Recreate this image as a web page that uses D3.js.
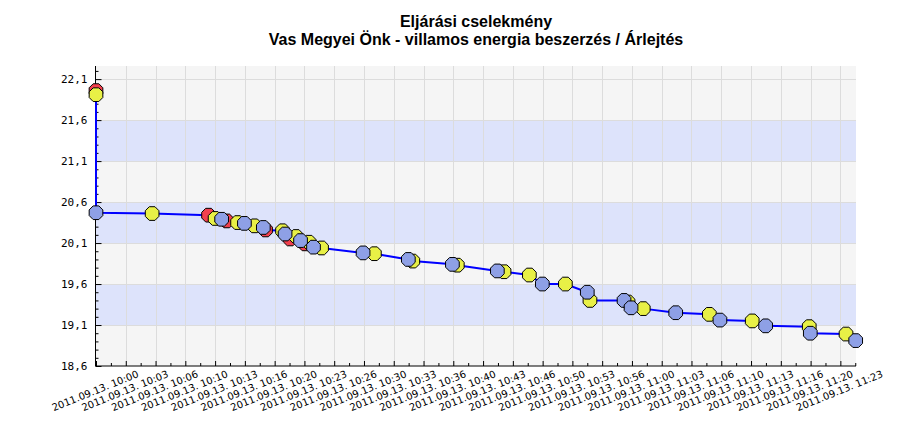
<!DOCTYPE html>
<html><head><meta charset="utf-8">
<script src="https://cdn.jsdelivr.net/npm/d3@7"></script>
<style>body{margin:0;background:#fff}svg{display:block}</style>
</head><body>
<svg id="chart" width="914" height="422"></svg>
<script>
// ---- data ----
const titleLines = ["Eljárási cselekmény", "Vas Megyei Önk - villamos energia beszerzés / Árlejtés"];
const bidTimes = ["10:00:00","10:00:00","10:00:00","10:06:17","10:12:36","10:13:20","10:14:04","10:14:38",
  "10:15:51","10:16:37","10:17:45","10:18:44","10:18:59","10:20:53","10:21:10","10:21:44","10:22:24",
  "10:22:54","10:23:24","10:23:51","10:24:21","10:25:15","10:29:54","10:31:10","10:34:58","10:35:28",
  "10:39:54","10:40:27","10:44:56","10:45:41","10:48:31","10:49:58","10:52:33","10:55:00","10:55:18",
  "10:59:07","10:59:34","10:59:54","11:01:16","11:04:54","11:08:40","11:09:51","11:13:28","11:14:58",
  "11:19:51","11:19:58","11:23:58","11:25:03"];
const bidPrices = [21.96,21.91,20.47,20.46,20.44,20.40,20.39,20.37,
  20.35,20.34,20.31,20.29,20.26,20.25,20.21,20.15,20.18,
  20.13,20.09,20.11,20.05,20.04,19.98,19.97,19.90,19.88,
  19.84,19.83,19.76,19.75,19.71,19.60,19.60,19.50,19.40,
  19.40,19.38,19.31,19.30,19.25,19.23,19.16,19.15,19.09,
  19.08,19.00,18.99,18.91];
// 0 = red bidder, 1 = yellow bidder, 2 = blue bidder
const bidders = [0,1,2,1,0,1,2,0,
  1,2,1,2,0,1,2,0,1,
  2,0,1,2,1,2,1,2,1,
  2,1,2,1,1,2,1,2,1,
  2,1,2,1,2,1,2,1,2,
  1,2,1,2];
const bidderColors = ["#f2404e", "#e8f046", "#8ea0e6"];
const yMajorTicks = [18.6,19.1,19.6,20.1,20.6,21.1,21.6,22.1];
const yTickLabels = ["18,6","19,1","19,6","20,1","20,6","21,1","21,6","22,1"];
const yMinorTicks = [18.7,18.8,18.9,19.0,19.2,19.3,19.4,19.5,19.7,19.8,19.9,20.0,20.2,20.3,20.4,20.5,
  20.7,20.8,20.9,21.0,21.2,21.3,21.4,21.5,21.7,21.8,21.9,22.0,22.2];
const xTickTimes = ["10:00:00","10:03:20","10:06:40","10:10:00","10:13:20","10:16:40","10:20:00","10:23:20",
  "10:26:40","10:30:00","10:33:20","10:36:40","10:40:00","10:43:20","10:46:40","10:50:00","10:53:20",
  "10:56:40","11:00:00","11:03:20","11:06:40","11:10:00","11:13:20","11:16:40","11:20:00","11:23:20"];
const xTickLabels = ["2011.09.13. 10:00","2011.09.13. 10:03","2011.09.13. 10:06","2011.09.13. 10:10",
  "2011.09.13. 10:13","2011.09.13. 10:16","2011.09.13. 10:20","2011.09.13. 10:23","2011.09.13. 10:26",
  "2011.09.13. 10:30","2011.09.13. 10:33","2011.09.13. 10:36","2011.09.13. 10:40","2011.09.13. 10:43",
  "2011.09.13. 10:46","2011.09.13. 10:50","2011.09.13. 10:53","2011.09.13. 10:56","2011.09.13. 11:00",
  "2011.09.13. 11:03","2011.09.13. 11:06","2011.09.13. 11:10","2011.09.13. 11:13","2011.09.13. 11:16",
  "2011.09.13. 11:20","2011.09.13. 11:23"];
const xMinorTimes = ["10:01:40","10:05:00","10:08:20","10:11:40","10:15:00","10:18:20","10:21:40","10:25:00",
  "10:28:20","10:31:40","10:35:00","10:38:20","10:41:40","10:45:00","10:48:20","10:51:40","10:55:00",
  "10:58:20","11:01:40","11:05:00","11:08:20","11:11:40","11:15:00","11:18:20","11:21:40","11:25:00"];
const xDomain = ["10:00:00","11:25:03"];
const yDomain = [18.6, 22.26];

// ---- layout ----
const L = 95.5, R = 856, T = 66, B = 366;
const parse = d3.timeParse("%Y-%m-%d %H:%M:%S");
const pt = s => parse("2011-09-13 " + s);

const svg = d3.select("#chart");
const x = d3.scaleTime().domain(xDomain.map(pt)).range([96, 855.7]);
const y = d3.scaleLinear().domain(yDomain).range([B, T]);

// title
svg.selectAll("text.title").data(titleLines).join("text")
  .attr("class","title")
  .attr("x", 476).attr("y", (d,i) => 27 + i*18)
  .attr("text-anchor","middle")
  .style("font-family","'Liberation Sans', Arial, sans-serif")
  .style("font-weight","bold").style("font-size","16px")
  .text(d => d);

// background bands
const bandEdges = [yDomain[0], ...yMajorTicks.slice(1), yDomain[1]];
const bands = d3.pairs(bandEdges);
svg.append("g").selectAll("rect").data(bands).join("rect")
  .attr("x", L).attr("width", R - L)
  .attr("y", d => y(d[1])).attr("height", d => y(d[0]) - y(d[1]))
  .attr("fill", (d,i) => (i % 2 === 1 && i < 7) ? "#dde3fb" : "#f5f5f5");

// grid
const grid = svg.append("g").attr("stroke","#dcdcdc").attr("stroke-width",1).attr("shape-rendering","crispEdges");
grid.selectAll("line.h").data(yMajorTicks.slice(1)).join("line").attr("class","h")
  .attr("x1", L).attr("x2", R).attr("y1", d => Math.round(y(d))+0.5).attr("y2", d => Math.round(y(d))+0.5);
grid.selectAll("line.v").data(xTickTimes.slice(1)).join("line").attr("class","v")
  .attr("y1", T).attr("y2", B).attr("x1", d => Math.round(x(pt(d)))+0.5).attr("x2", d => Math.round(x(pt(d)))+0.5);

// axes
const yAxis = d3.axisLeft(y).tickValues(yMajorTicks).tickSizeInner(-6).tickSizeOuter(0)
  .tickPadding(8).tickFormat((d,i) => yTickLabels[i]);
const gy = svg.append("g").attr("transform", `translate(${L},0)`).call(yAxis);
gy.selectAll("text").style("font-family","'DejaVu Sans Mono', monospace").style("font-size","11px").attr("fill","#000");
gy.select(".domain").attr("d", `M0,${T}V${B}`);
const yMinor = d3.axisLeft(y).tickValues(yMinorTicks).tickSizeInner(-3).tickSizeOuter(0).tickFormat("");
const gym = svg.append("g").attr("transform", `translate(${L},0)`).call(yMinor);
gym.select(".domain").remove();

const xAxis = d3.axisBottom(x).tickValues(xTickTimes.map(pt)).tickSizeInner(-5).tickSizeOuter(0)
  .tickFormat((d,i) => xTickLabels[i]);
const gx = svg.append("g").attr("transform", `translate(0,${B})`).call(xAxis);
gx.select(".domain").attr("d", `M${L},0H${R}`);
gx.selectAll("text")
  .style("font-family","'DejaVu Sans', sans-serif").style("font-size","10px").attr("fill","#000")
  .attr("text-anchor","middle").attr("dy", null).attr("y", 0)
  .attr("transform", "translate(0,28) rotate(-22)");
const xMinor = d3.axisBottom(x).tickValues(xMinorTimes.map(pt)).tickSizeInner(-3).tickSizeOuter(0).tickFormat("");
const gxm = svg.append("g").attr("transform", `translate(0,${B})`).call(xMinor);
gxm.select(".domain").remove();

[gx, gy, gxm, gym].forEach(g => g.selectAll("line, path").attr("stroke","#000"));

// data
const bids = bidTimes.map((t,i) => ({t: pt(t), v: bidPrices[i], b: bidders[i]}));
svg.append("path").datum(bids)
  .attr("fill","none").attr("stroke","#0000ff").attr("stroke-width",2)
  .attr("d", d3.line().x(d => x(d.t)).y(d => y(d.v)));

const r = 7.4;
const oct = d3.range(8).map(k => {
  const a = Math.PI/8 + k*Math.PI/4;
  return [r*Math.cos(a), r*Math.sin(a)];
});
const octPath = "M" + oct.map(p => p.join(",")).join("L") + "Z";
const ordered = [0,1,2].flatMap(s => bids.filter(d => d.b === s));
svg.append("g").selectAll("path").data(ordered).join("path")
  .attr("d", octPath)
  .attr("transform", d => `translate(${x(d.t)},${y(d.v)})`)
  .attr("fill", d => bidderColors[d.b])
  .attr("stroke","#000").attr("stroke-width",1);
</script>
</body></html>
